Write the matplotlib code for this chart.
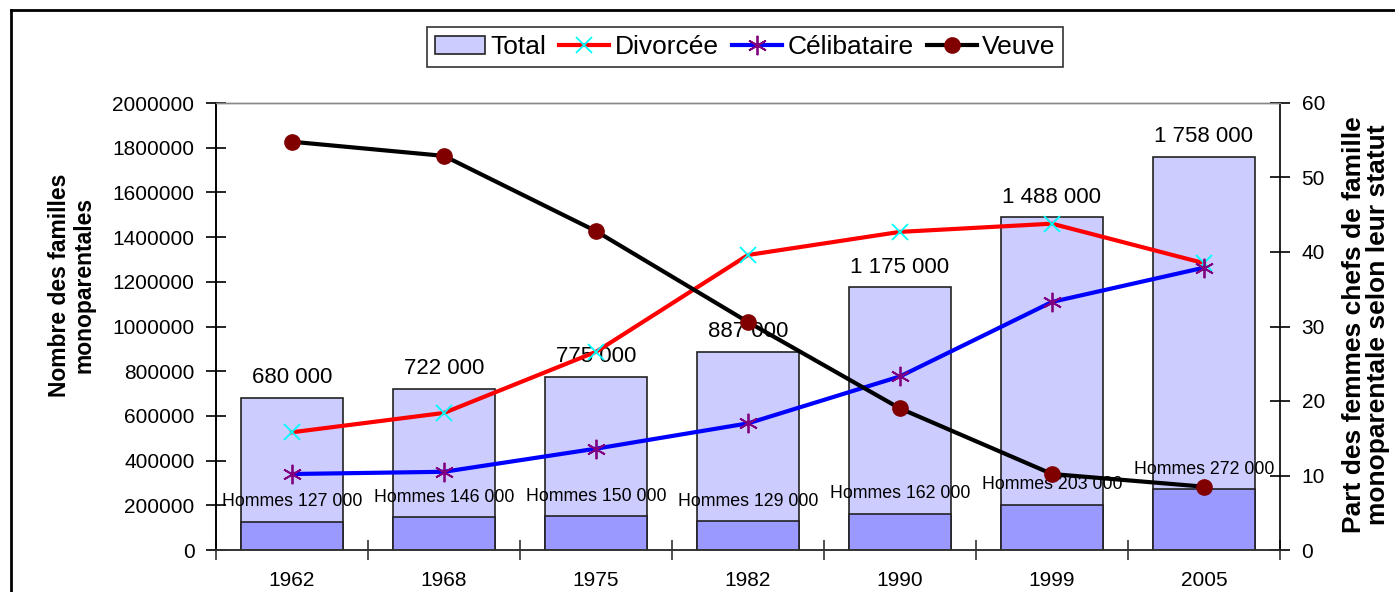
import numpy as np
import matplotlib.pyplot as plt
from matplotlib.lines import Line2D
from matplotlib.ticker import FuncFormatter, FixedLocator

plt.rcParams['font.family'] = ['Liberation Sans', 'DejaVu Sans']

years = ['1962', '1968', '1975', '1982', '1990', '1999', '2005']
total = [680000, 722000, 775000, 887000, 1175000, 1488000, 1758000]
hommes = [127000, 146000, 150000, 129000, 162000, 203000, 272000]
# part des femmes chefs de famille selon leur statut (%)
divorcee = [15.8, 18.4, 26.6, 39.6, 42.7, 43.8, 38.5]
celibataire = [10.2, 10.5, 13.6, 17.0, 23.3, 33.3, 37.9]
veuve = [54.8, 52.9, 42.8, 30.6, 19.0, 10.2, 8.5]

fmt = lambda v: f"{v:,}".replace(",", " ")

fig = plt.figure(figsize=(13.95, 5.92), dpi=100)
ax = fig.add_axes([216/1395, 1-550/592, 1064/1395, 447/592])
ax2 = ax.twinx()

x = np.arange(len(years))
w = 0.67
ax.bar(x, total, w, color='#CCCCFF', edgecolor='#222222', linewidth=1.2, zorder=2)
ax.bar(x, hommes, w, color='#9999FF', edgecolor='#222222', linewidth=1.2, zorder=3)
for xi, t, h in zip(x, total, hommes):
    ax.annotate(fmt(t), (xi, t), xytext=(0, 7), textcoords='offset points',
                ha='center', va='bottom', fontsize=16, zorder=4)
    ax.annotate('Hommes ' + fmt(h), (xi, h), xytext=(0, 14.5), textcoords='offset points',
                ha='center', va='center', fontsize=12.8, zorder=4)

ax.set_xlim(-0.5, len(years) - 0.5)
ax.set_ylim(0, 2000000)
ax.yaxis.set_major_locator(FixedLocator(np.arange(0, 2000001, 200000)))
ax.yaxis.set_major_formatter(FuncFormatter(lambda v, p: str(int(v))))
ax.xaxis.set_major_locator(FixedLocator(np.arange(-0.5, len(years), 1.0)))
ax.xaxis.set_major_formatter(FuncFormatter(lambda v, p: ''))
ax.set_xticks(x, minor=True)
ax.set_xticklabels(years, minor=True)
ax.tick_params(axis='x', which='major', direction='inout', length=14, width=1.2, color='#333333')
ax.tick_params(axis='x', which='minor', length=0, pad=15, labelsize=15)
ax.tick_params(axis='y', direction='inout', length=15, width=1.2, pad=8, labelsize=15)

ax2.set_ylim(0, 60)
ax2.set_yticks(np.arange(0, 61, 10))
ax2.tick_params(axis='y', direction='inout', length=15, width=1.2, pad=8, labelsize=15)

l1, = ax2.plot(x, divorcee, color='red', lw=3, marker='x', ms=11, mec='cyan', mew=1.3, zorder=5)
l2, = ax2.plot(x, celibataire, color='blue', lw=3, marker=(6, 2, 0), ms=14, mec='#800080', mew=1.3, zorder=6)
l3, = ax2.plot(x, veuve, color='black', lw=3, marker='o', ms=11, mfc='#800000', mec='#800000', zorder=7)

for a in (ax, ax2):
    a.spines['top'].set_color('#888888')
    a.spines['top'].set_linewidth(1.0)
    a.spines['left'].set_linewidth(1.2)
    a.spines['right'].set_linewidth(1.2)
    a.spines['bottom'].set_linewidth(1.2)
    a.spines['bottom'].set_color('#333333')
ax.spines['right'].set_visible(False)

fig.text(72/1395, 1-285/592, 'Nombre des familles\nmonoparentales', rotation=90,
         ha='center', va='center', fontsize=16.5, fontweight='bold', linespacing=1.1)
fig.text(1366/1395, 1-325/592, 'Part des femmes chefs de famille\nmonoparentale selon leur statut',
         rotation=90, ha='center', va='center', fontsize=19, fontweight='bold', linespacing=1.05)

tot_handle = plt.Rectangle((0, 0), 1, 1, facecolor='#CCCCFF', edgecolor='#222222', linewidth=1.2)
leg = fig.legend([tot_handle, l1, l2, l3], ['Total', 'Divorcée', 'Célibataire', 'Veuve'],
                 loc='center', bbox_to_anchor=(745/1395, 1-47/592), ncol=4, fontsize=19,
                 frameon=True, fancybox=False, edgecolor='black', handlelength=1.9,
                 handletextpad=0.2, columnspacing=0.5, borderpad=0.3)
leg.get_frame().set_linewidth(1.2)

# cadre du graphique
fig.add_artist(Line2D([11/1395, 1.0], [1-10/592, 1-10/592], color='black', lw=2))
fig.add_artist(Line2D([11/1395, 11/1395], [0, 1-10/592], color='black', lw=2))

fig.savefig('out.png', dpi=100)
